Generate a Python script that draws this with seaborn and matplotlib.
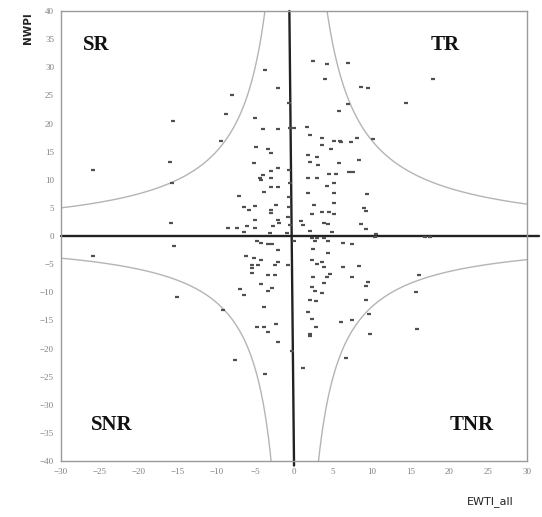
import numpy as np
import pandas as pd
import seaborn as sns
import matplotlib
matplotlib.use("Agg")
import matplotlib.pyplot as plt

# values
ewti_all = [-3.7, -2.1, -8.0, -8.8, -5.0, -4.0, -2.0, -9.4, -4.9, -3.4,
            -3.0, -5.1, -2.0, -3.0, -4.0, -4.4, -3.0, -4.2, -3.0, -2.0,
            -3.9, -7.1, -6.5, -5.8, -5.0, -2.3, -3.0, -3.0, -5.0, -2.0,
            -1.9, -8.5, -7.4, -6.1, -5.0, -6.5, -2.7, -3.1, -0.6, -0.5,
            0.0, -0.6, -0.5, -0.6, -0.6, -0.8, -0.5, -0.9,
            2.5, 4.2, 6.9, 4.0, 8.6, 9.5, 7.0, 14.4, 5.8, 1.7,
            2.0, 3.6, 5.1, 5.9, 6.1, 7.3, 8.1, 10.2, 3.6, 4.7,
            1.8, 3.0, 8.3, 2.0, 3.1, 5.8, 7.1, 7.6, 1.8, 2.9,
            4.5, 5.4, 5.1, 4.2, 1.8, 5.1, 9.4, 2.6, 5.2, 9.0,
            9.3, 2.3, 3.6, 4.5, 5.2, 0.9, 1.2, 3.8, 4.4, 8.6,
            2.1, 4.9, 9.3, 10.6, 2.3, 2.9, 3.8,
            -4.8, -4.2, -3.3, -2.9, -2.1, -6.2, -5.2, -4.2, -2.0, -2.4,
            -5.4, -4.6, -5.4, -5.4, -0.8, -3.4, -2.4, -4.3, -7.0, -2.9,
            -3.4, -6.5, -9.1, -3.9, -4.8, -3.9, -2.3, -3.4, -2.0, -7.6,
            -3.7, -0.3,
            0.0, 2.7, 4.4, 6.3, 7.4, 2.5, 4.4, 2.3, 2.9, 3.6,
            3.8, 6.3, 8.3, 4.6, 4.2, 2.4, 7.4, 3.8, 2.3, 2.7,
            3.6, 9.5, 9.3, 16.1, 15.7, 2.1, 2.8, 9.3, 1.8, 9.6,
            2.3, 6.1, 7.4, 2.8, 15.8, 9.8, 2.0, 2.1, 6.7, 1.1,
            17.9, 10.4, 16.9, 17.5,
            -15.6, -25.9, -16.0, -15.7, -15.8, -15.5, -25.9, -15.1]
nwpi = [29.5, 26.3, 25.1, 21.7, 20.9, 19.0, 19.1, 16.9, 15.9, 15.4,
        14.8, 13.0, 12.1, 11.6, 10.8, 10.3, 10.3, 10.0, 8.7, 8.7,
        7.9, 7.1, 5.1, 4.7, 5.3, 5.5, 4.7, 4.1, 2.8, 2.8,
        2.3, 1.4, 1.5, 1.7, 1.5, 0.7, 1.8, 0.5, 23.6, 19.2,
        19.2, 11.7, 9.4, 6.9, 5.2, 3.4, 2.0, 0.5,
        31.2, 30.5, 30.7, 28.0, 26.5, 26.4, 23.4, 23.6, 22.3, 19.3,
        18.0, 17.5, 16.9, 16.9, 16.8, 16.8, 17.5, 17.2, 16.1, 15.4,
        14.4, 14.1, 13.6, 13.2, 12.6, 12.9, 11.4, 11.4, 10.4, 10.4,
        11.0, 11.0, 9.5, 8.9, 7.6, 7.6, 7.4, 5.5, 5.8, 4.9,
        4.5, 4.0, 4.2, 4.2, 3.9, 2.7, 2.0, 2.3, 2.1, 2.1,
        0.9, 0.7, 1.2, 0.4, -0.4, -0.4, -0.4,
        -0.9, -1.2, -1.4, -1.5, -2.4, -3.6, -3.9, -4.3, -4.6, -5.1,
        -5.2, -5.2, -5.7, -6.5, -5.1, -6.9, -7.0, -8.5, -9.4, -9.2,
        -9.7, -10.4, -13.2, -12.7, -16.2, -16.2, -15.6, -17.1, -18.8, -22.1,
        -24.5, -20.5,
        -0.8, -0.8, -0.9, -1.2, -1.4, -2.3, -3.1, -4.3, -4.9, -4.6,
        -5.5, -5.5, -5.3, -6.7, -7.3, -7.3, -7.3, -8.3, -9.1, -9.8,
        -10.1, -8.2, -8.9, -6.9, -10.0, -11.3, -11.6, -11.3, -13.5, -13.8,
        -14.8, -15.3, -14.9, -16.2, -16.5, -17.4, -17.7, -17.4, -21.6, -23.5,
        28.0, -0.1, -0.1, -0.2,
        20.5, 11.7, 13.2, 9.5, 2.3, -1.8, -3.5, -10.8]

# quadrant boundary curves EWTI * NWPI = k
quadrant = ["SR", "TR", "SNR", "TNR"]
curve_k = [-150, 170, 118, -126]
label_x = [-25.4, 19.4, -23.4, 22.9]
label_y = [34, 34, -33.6, -33.6]

xticks = list(range(-30, 31, 5))
yticks = list(range(-40, 41, 5))

df = pd.DataFrame({"EWTI_all": ewti_all, "NWPI": nwpi})

sns.set_style("white")
fig = plt.figure(figsize=(5.42, 5.17), dpi=100)
ax = fig.add_axes([0.1125, 0.1083, 0.86, 0.8704])

# boundary curves
for q, k in zip(quadrant, curve_k):
    side = -1 if q in ("SR", "SNR") else 1
    xs = np.linspace(side * 30, side * 0.5, 400)
    ax.plot(xs, k / xs, color="#b4b4b4", lw=1.0, zorder=1)

ax.plot([-30, 31.5], [0, 0], color="#222222", lw=1.7, clip_on=False, zorder=2)
ax.plot([-0.6, 0.0], [40, -40.8], color="#222222", lw=1.7, clip_on=False, zorder=2)

sns.scatterplot(data=df, x="EWTI_all", y="NWPI", ax=ax, marker="_", s=7,
                linewidth=1.6, color="#505050", zorder=3, legend=False)

for q, lx, ly in zip(quadrant, label_x, label_y):
    ax.text(lx, ly, q, ha="center", va="center", fontsize=15,
            fontweight="bold", family="Liberation Serif", color="#111111")

ax.set_xlim(-30, 30)
ax.set_ylim(-40, 40)
ax.set_xticks(xticks)
ax.set_yticks(yticks)
ax.set_xlabel("")
ax.set_ylabel("")
ax.tick_params(direction="inout", length=4, width=0.8, color="#888888",
               labelsize=6.5, labelcolor="#808080", pad=3)
for lab in ax.get_xticklabels() + ax.get_yticklabels():
    lab.set_family("Liberation Serif")
for sp in ax.spines.values():
    sp.set_color("#9a9a9a")
    sp.set_linewidth(1.0)

fig.text(0.052, 0.945, "NWPI", rotation=90, ha="center", va="center",
         fontsize=7.5, fontweight="bold", family="DejaVu Sans", color="#222222")
fig.text(0.905, 0.03, "EWTI_all", ha="center", va="center",
         fontsize=8, family="DejaVu Sans", color="#222222")

fig.savefig("out.png", dpi=100)
